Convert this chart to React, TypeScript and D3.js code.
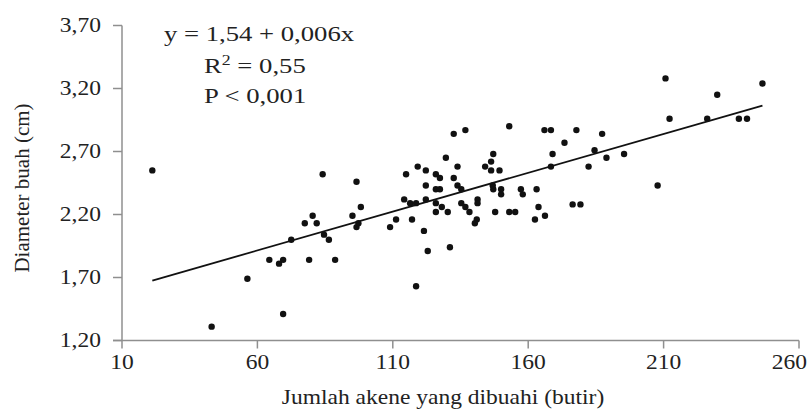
import React from 'react';
import * as d3 from 'd3';

// jumlah akene yang dibuahi (butir) vs diameter buah (cm)
const akene = [
  21.2, 84.1, 80.4, 77.5, 81.9, 72.5, 84.6, 86.4, 64.4, 68.0, 69.5, 79.1, 88.7, 56.3, 69.5, 43.1,
  153.0, 132.5, 136.8, 147.1, 129.6, 146.3, 144.1, 146.3, 149.4, 119.2, 133.9, 114.9, 122.2, 125.9,
  127.4, 132.5, 96.6, 122.2, 133.9, 125.9, 127.4, 135.3, 147.1, 146.9, 150.0, 150.0, 157.3, 158.0,
  163.1, 114.2, 116.4, 118.6, 122.2, 125.9, 135.3, 141.3, 141.3, 136.8, 128.1, 98.2, 95.1, 96.6,
  97.3, 125.9, 130.3, 138.3, 147.8, 153.0, 155.2, 163.8, 162.5, 111.2, 109.0, 117.1, 121.5, 122.9,
  131.1, 118.6, 141.0, 140.3,
  210.7, 246.5, 229.8, 212.2, 226.1, 237.8, 240.8, 166.0, 168.4, 177.8, 187.3, 173.4, 169.0, 184.5,
  188.9, 195.4, 168.4, 182.3, 207.8, 166.2, 176.4, 179.3
];
const diameter = [
  2.55, 2.52, 2.19, 2.13, 2.13, 2.0, 2.04, 2.0, 1.84, 1.81, 1.84, 1.84, 1.84, 1.69, 1.41, 1.31,
  2.9, 2.84, 2.87, 2.68, 2.65, 2.62, 2.58, 2.55, 2.55, 2.58, 2.58, 2.52, 2.55, 2.52,
  2.49, 2.49, 2.46, 2.43, 2.43, 2.4, 2.4, 2.4, 2.4, 2.43, 2.4, 2.36, 2.4, 2.36,
  2.4, 2.32, 2.29, 2.29, 2.32, 2.29, 2.29, 2.32, 2.29, 2.26, 2.26, 2.26, 2.19, 2.1,
  2.13, 2.22, 2.22, 2.22, 2.22, 2.22, 2.22, 2.26, 2.16, 2.16, 2.1, 2.16, 2.07, 1.91,
  1.94, 1.63, 2.16, 2.13,
  3.28, 3.24, 3.15, 2.96, 2.96, 2.96, 2.96, 2.87, 2.87, 2.87, 2.84, 2.77, 2.68, 2.71,
  2.65, 2.68, 2.58, 2.58, 2.43, 2.19, 2.28, 2.28
];

const xTicks = [10, 60, 110, 160, 210, 260];
const yTicks = [1.2, 1.7, 2.2, 2.7, 3.2, 3.7];

// garis regresi seperti tergambar
const fitIntercept = 1.545;
const fitSlope = 0.00616;
const fitFrom = 21.2;
const fitTo = 246.5;

const FONT = '"Liberation Serif", "Times New Roman", serif';
const AXIS = '#8f8f8f';
// teks di gambar asli agak melebar
const SX = 1.12;
const SX_EQ = 1.27;

export default function App() {
  const width = 809;
  const height = 415;
  const margin = {top: 25.5, right: 10, bottom: 74.5, left: 122};

  const x = d3.scaleLinear().domain([10, 260]).range([margin.left, width - margin.right]);
  const y = d3.scaleLinear().domain([1.2, 3.7]).range([height - margin.bottom, margin.top]);

  const comma = (v: number, f: string) => d3.format(f)(v).replace('.', ',');
  const fit = (v: number) => fitIntercept + fitSlope * v;
  const at = (tx: number, ty: number, s = SX) => `translate(${tx},${ty}) scale(${s},1)`;

  return (
    <div style={{position: 'absolute', left: 0, top: 0}}>
      <svg width={width} height={height} style={{display: 'block', background: '#fff'}}>
        <g fontFamily={FONT} fontSize={21} fill="#222">
          {/* sumbu */}
          <line x1={x(10) - 9} x2={x(260)} y1={y(1.2)} y2={y(1.2)} stroke={AXIS} strokeWidth={1.5} />
          <line x1={x(10)} x2={x(10)} y1={y(1.2)} y2={y(3.7)} stroke={AXIS} strokeWidth={1.5} />
          {yTicks.map(t => (
            <g key={'y' + t}>
              <line x1={x(10) - 9} x2={x(10)} y1={y(t)} y2={y(t)} stroke={AXIS} strokeWidth={1.5} />
              <text transform={at(101, y(t))} dy="0.33em" textAnchor="end">{comma(t, '.2f')}</text>
            </g>
          ))}
          {xTicks.map((t, i) => {
            const last = i === xTicks.length - 1;
            return (
              <g key={'x' + t}>
                <line x1={x(t)} x2={x(t)} y1={y(1.2)} y2={y(1.2) + 8} stroke={AXIS} strokeWidth={1.5} />
                <text transform={at(last ? 807 : x(t), 369)} textAnchor={last ? 'end' : 'middle'}>{t}</text>
              </g>
            );
          })}
          <text transform={at(443, 404)} textAnchor="middle">Jumlah akene yang dibuahi (butir)</text>
          <text transform="translate(29,188) rotate(-90)" textAnchor="middle">Diameter buah (cm)</text>

          {/* titik */}
          {akene.map((d, i) => (
            <circle key={i} cx={x(d)} cy={y(diameter[i])} r={3.2} fill="#111" />
          ))}
          <line x1={x(fitFrom)} y1={y(fit(fitFrom))} x2={x(fitTo)} y2={y(fit(fitTo))} stroke="#111" strokeWidth={1.8} />

          {/* persamaan */}
          <text transform={at(164, 41, SX_EQ)}>y = 1,54 + 0,006x</text>
          <text transform={at(204, 73, SX_EQ)}>R<tspan fontSize={14} dy={-8}>2</tspan><tspan dy={8}> = 0,55</tspan></text>
          <text transform={at(204, 103, SX_EQ)}>P &lt; 0,001</text>
        </g>
      </svg>
    </div>
  );
}
